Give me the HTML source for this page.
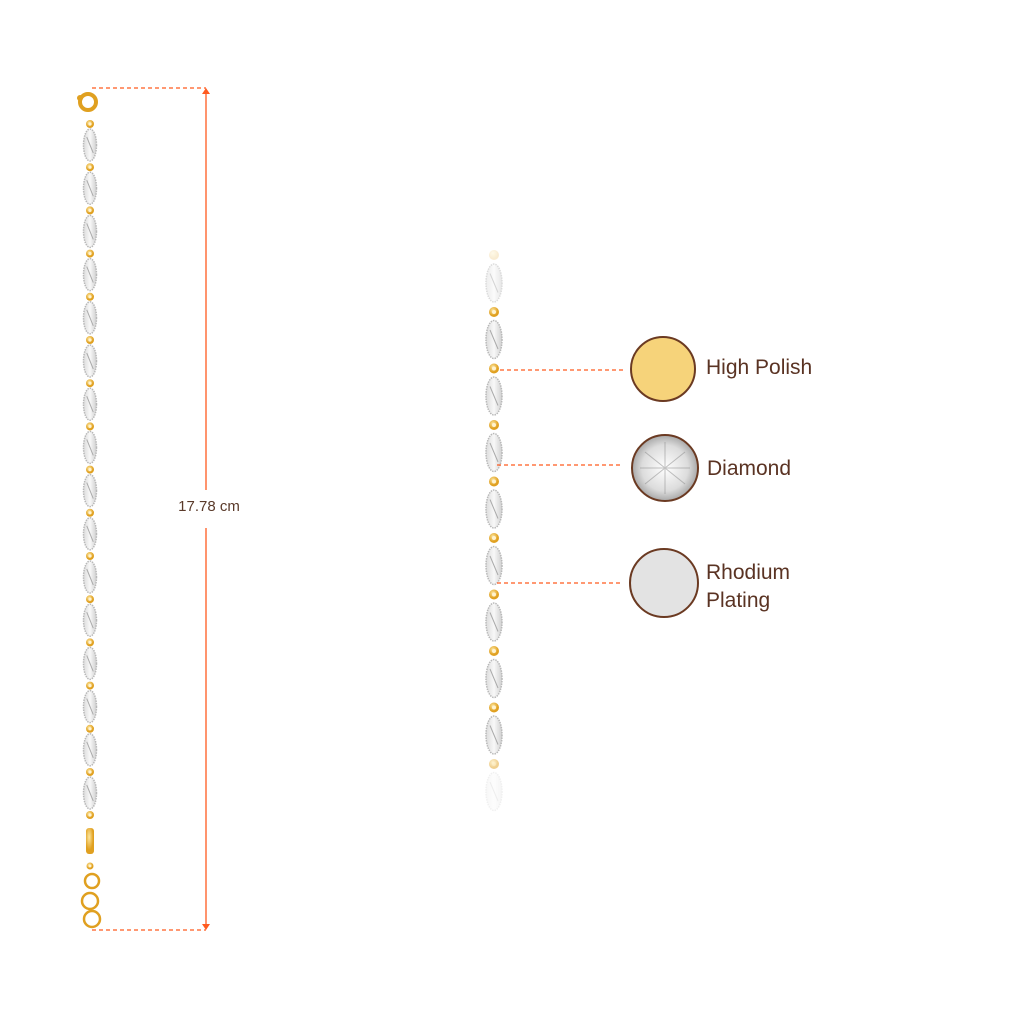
<!DOCTYPE html>
<html><head><meta charset="utf-8"><style>
body{margin:0;background:#fff;width:1024px;height:1024px;overflow:hidden}
svg{display:block}
text{font-family:"Liberation Sans",sans-serif}
</style></head><body>
<svg id="s" width="1024" height="1024" viewBox="0 0 1024 1024">
<defs>
<radialGradient id="g" cx="40%" cy="35%"><stop offset="0" stop-color="#fde7a0"/><stop offset="1" stop-color="#e0a020"/></radialGradient>
<linearGradient id="w" x1="0" x2="1"><stop offset="0" stop-color="#dcdcdc"/><stop offset=".5" stop-color="#f8f8f8"/><stop offset="1" stop-color="#d0d0d0"/></linearGradient>
<radialGradient id="d" cx="50%" cy="50%"><stop offset="0" stop-color="#ffffff"/><stop offset=".7" stop-color="#dcdcdc"/><stop offset="1" stop-color="#a8a8a8"/></radialGradient>
</defs>
<g id="chain"></g>
<g stroke="#ff5a1f" stroke-width="1.3" fill="none">
<line x1="92" y1="88" x2="206" y2="88" stroke-dasharray="4 3"/>
<line x1="92" y1="930" x2="206" y2="930" stroke-dasharray="4 3"/>
<line x1="206" y1="90" x2="206" y2="490"/>
<line x1="206" y1="528" x2="206" y2="928"/>
<line x1="500" y1="370" x2="623" y2="370" stroke-dasharray="4 3"/>
<line x1="497" y1="465" x2="623" y2="465" stroke-dasharray="4 3"/>
<line x1="497" y1="583" x2="623" y2="583" stroke-dasharray="4 3"/>
</g>
<path d="M202 94 L206 88 L210 94Z M202 924 L206 930 L210 924Z" fill="#ff5a1f"/>
<text x="209" y="511" font-size="15" fill="#5a3a2a" text-anchor="middle">17.78 cm</text>
<circle cx="663" cy="369" r="32" fill="#f6d37a" stroke="#6b3a22" stroke-width="2"/>
<circle cx="665" cy="468" r="33" fill="url(#d)" stroke="#6b3a22" stroke-width="2"/>
<g stroke="#888" stroke-width="1" opacity=".5"><line x1="645" y1="452" x2="685" y2="484"/><line x1="645" y1="484" x2="685" y2="452"/><line x1="665" y1="442" x2="665" y2="494"/><line x1="640" y1="468" x2="690" y2="468"/></g>
<circle cx="664" cy="583" r="34" fill="#e3e3e3" stroke="#6b3a22" stroke-width="2"/>
<g font-size="21" fill="#5a3323">
<text x="706" y="374">High Polish</text>
<text x="707" y="475">Diamond</text>
<text x="706" y="579">Rhodium</text>
<text x="706" y="607">Plating</text>
</g>
</svg>
<script>
var g=document.getElementById('chain'),h='';
function link(x,y,w,hh,op){h+='<g opacity="'+op+'"><ellipse cx="'+x+'" cy="'+y+'" rx="'+w+'" ry="'+hh+'" fill="url(#w)" stroke="#b8b8b8" stroke-width="1.5" stroke-dasharray="1.5 1"/><path d="M'+(x-w/2)+' '+(y-hh/2)+' L'+(x+w/2)+' '+(y+hh/2)+'" stroke="#aaa" stroke-width="1"/></g>';}
function bead(x,y,r,op){h+='<circle cx="'+x+'" cy="'+y+'" r="'+r+'" fill="url(#g)" opacity="'+op+'"/><circle cx="'+x+'" cy="'+y+'" r="'+(r*0.4)+'" fill="#fff3d0" opacity="'+op+'"/>';}
h+='<circle cx="88" cy="102" r="8" fill="none" stroke="#e0a020" stroke-width="4"/><circle cx="80" cy="98" r="3" fill="#e0a020"/>';
for(var i=0;i<16;i++){var y=145+i*43.2;bead(90,y-21,4,1);link(90,y,6.5,16,1);}
bead(90,815,4,1);
h+='<rect x="86" y="828" width="8" height="26" rx="3" fill="url(#g)"/>';
bead(90,866,3.5,1);
[[92,881,7],[90,901,8],[92,919,8]].forEach(function(c){h+='<circle cx="'+c[0]+'" cy="'+c[1]+'" r="'+c[2]+'" fill="none" stroke="#e0a020" stroke-width="2.5"/>';});
for(var i=0;i<10;i++){var y=283+i*56.5,op=i==0?0.5:(i>=9?0.2:1);link(494,y,8,19,op);if(i<9)bead(494,y+29,5,i==8?0.5:1);}
bead(494,255,5,0.2);
g.innerHTML=h;
</script>
</body></html>
